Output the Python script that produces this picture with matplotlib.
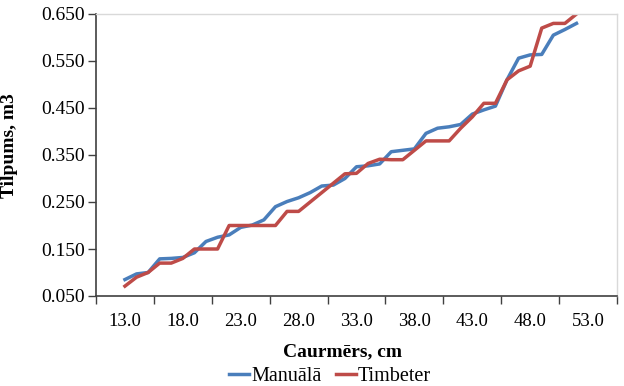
import matplotlib.pyplot as plt
import numpy as np

# diameters (categories) and volumes
diam = list(range(13, 53))
manuala = [0.085, 0.097, 0.100, 0.129, 0.130, 0.132, 0.142, 0.166, 0.175, 0.180,
           0.196, 0.201, 0.212, 0.240, 0.251, 0.259, 0.270, 0.284, 0.286, 0.300,
           0.325, 0.327, 0.331, 0.357, 0.360, 0.363, 0.396, 0.407, 0.410, 0.415,
           0.437, 0.446, 0.454, 0.510, 0.556, 0.563, 0.564, 0.605, 0.617, 0.630]
timbeter = [0.071, 0.090, 0.100, 0.120, 0.120, 0.130, 0.150, 0.150, 0.150, 0.200,
            0.200, 0.200, 0.200, 0.200, 0.230, 0.230, 0.250, 0.270, 0.290, 0.310,
            0.311, 0.332, 0.341, 0.340, 0.340, 0.360, 0.380, 0.380, 0.380, 0.407,
            0.431, 0.460, 0.460, 0.510, 0.529, 0.539, 0.620, 0.630, 0.630, 0.650]
xlabels = [13, 18, 23, 28, 33, 38, 43, 48, 53]
yticks = [0.05, 0.15, 0.25, 0.35, 0.45, 0.55, 0.65]

plt.rcParams['font.family'] = ['Liberation Serif', 'DejaVu Serif']

fig = plt.figure(figsize=(6.24, 3.86), dpi=100)
ax = fig.add_axes([96/624, 1-296/386, (617-96)/624, (296-14)/386])

ax.plot(diam, manuala, color='#4a7ebb', lw=2.5, label='Manuālā')
ax.plot(diam, timbeter, color='#be4b48', lw=2.5, label='Timbeter')

ax.set_xlim(10.5, 55.5)
ax.set_ylim(0.05, 0.65)

# ticks at group boundaries, labels centred in each group
ax.set_xticks(np.arange(10.5, 56, 5), minor=True)
ax.set_xticks(xlabels)
ax.set_xticklabels(['%.1f' % v for v in xlabels], fontsize=13.5)
ax.tick_params(axis='x', which='major', length=0, pad=12)
ax.tick_params(axis='x', which='minor', length=6, width=1, color='#404040', direction='out')

ax.set_yticks(yticks)
ax.set_yticklabels(['%.3f' % v for v in yticks], fontsize=14)
ax.tick_params(axis='y', length=6, width=1, color='#404040', direction='out', pad=2)

for s in ['left', 'bottom']:
    ax.spines[s].set_color('#404040')
    ax.spines[s].set_linewidth(1.2)
for s in ['top', 'right']:
    ax.spines[s].set_color('#d9d9d9')
    ax.spines[s].set_linewidth(1.0)

fig.text(342/624, 1-352/386, 'Caurmērs, cm', fontsize=14, fontweight='bold',
         ha='center', va='center')
fig.text(10/624, 1-146/386, 'Tilpums, m3', fontsize=14, fontweight='bold',
         ha='center', va='center', rotation=90)

fig.legend(loc='center', bbox_to_anchor=(330/624, 1-376/386), ncol=2, frameon=False,
           fontsize=14.5, handlelength=1.0, handletextpad=0.1, columnspacing=0.7,
           borderpad=0, borderaxespad=0)

fig.savefig('out.png', dpi=100)
